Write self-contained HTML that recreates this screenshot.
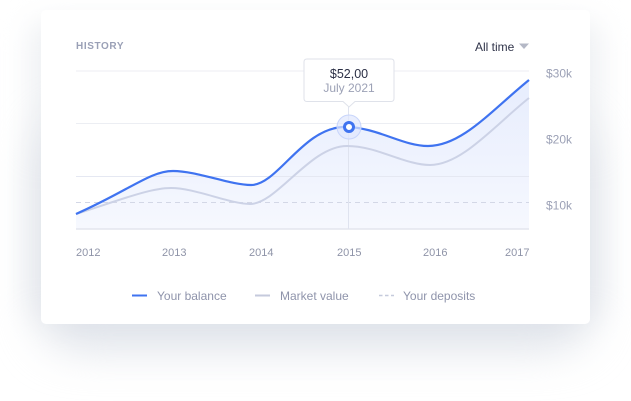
<!DOCTYPE html>
<html><head><meta charset="utf-8">
<style>
html,body{margin:0;padding:0;background:#fff;}
body{width:631px;height:401px;position:relative;overflow:hidden;font-family:"Liberation Sans",sans-serif;}
.shadow{position:absolute;left:40px;top:120px;width:551px;height:228px;border-radius:40px;background:#dde1e8;filter:blur(22px);}
.shadow2{position:absolute;left:30px;top:20px;width:571px;height:300px;border-radius:20px;background:#eef0f3;filter:blur(14px);}
.card{position:absolute;left:41px;top:10px;width:549px;height:314px;background:#fff;border-radius:5px;}
svg{position:absolute;left:0;top:0;}
</style></head><body>
<div class="shadow2"></div>
<div class="shadow"></div>
<div class="card"></div>
<svg width="631" height="401" viewBox="0 0 631 401" xmlns="http://www.w3.org/2000/svg">
<defs>
<linearGradient id="fill" x1="0" y1="0" x2="0" y2="1">
<stop offset="0" stop-color="#e7edfd"/>
<stop offset="1" stop-color="#f6f8fe"/>
</linearGradient>
</defs>
<text x="76" y="49" font-family="Liberation Sans, sans-serif" font-size="10" font-weight="bold" letter-spacing="0.6" fill="#9aa0b6">HISTORY</text>
<text x="475" y="51" font-family="Liberation Sans, sans-serif" font-size="12" fill="#2f3349">All time</text>
<path d="M519,43.5 L529,43.5 L524,49 Z" fill="#b4b8c6"/>
<!-- gridlines -->
<line x1="76" y1="71" x2="529" y2="71" stroke="#eceef3" stroke-width="1"/>
<line x1="76" y1="123.5" x2="529" y2="123.5" stroke="#eceef3" stroke-width="1"/>
<!-- area -->
<path d="M76,214 C130,190 150,171 173,171 C197,171 230,185 251,185 C278,185 303,127 345,127 C377,127 402,146 428,146 C462,146 492,110 529,80 L529,229 L76,229 Z" fill="url(#fill)"/>
<line x1="76" y1="176.5" x2="529" y2="176.5" stroke="#e5e8f2" stroke-width="1"/>
<line x1="76" y1="202.5" x2="529" y2="202.5" stroke="#d3d7e6" stroke-width="1" stroke-dasharray="5,4"/>
<line x1="76" y1="229" x2="529" y2="229" stroke="#e4e6ee" stroke-width="1.5"/>
<line x1="348.5" y1="107" x2="348.5" y2="229" stroke="#dfe3ef" stroke-width="1"/>
<!-- market value -->
<path d="M76,214 C120,200 150,188 171,188 C195,188 230,204 250,204 C277,204 310,146 347,146 C377,146 405,165 430,165 C462,165 495,125 529,98" fill="none" stroke="#ccd2e6" stroke-width="2"/>
<!-- balance -->
<path d="M76,214 C130,190 150,171 173,171 C197,171 230,185 251,185 C278,185 303,127 345,127 C377,127 402,146 428,146 C462,146 492,110 529,80" fill="none" stroke="#3f73f0" stroke-width="2.2"/>
<!-- point -->
<circle cx="349" cy="127" r="12" fill="#dfe7fd" fill-opacity="0.7" stroke="#c8d5fb" stroke-width="1"/>
<circle cx="349" cy="127" r="4.5" fill="#fff" stroke="#3f73f0" stroke-width="3"/>
<!-- tooltip -->
<path d="M307,59 L391,59 Q394,59 394,62 L394,98.5 Q394,101.5 391,101.5 L355,101.5 L349,107 L343,101.5 L307,101.5 Q304,101.5 304,98.5 L304,62 Q304,59 307,59 Z" fill="#fff" stroke="#dfe2ea" stroke-width="1"/>
<text x="349" y="78" text-anchor="middle" font-family="Liberation Sans, sans-serif" font-size="12.5" fill="#2b2f45">$52,00</text>
<text x="349" y="92" text-anchor="middle" font-family="Liberation Sans, sans-serif" font-size="12" fill="#9ca1b6">July 2021</text>
<!-- y labels -->
<g font-family="Liberation Sans, sans-serif" font-size="12" fill="#9ca1b6">
<text x="546" y="77.5">$30k</text>
<text x="546" y="143.5">$20k</text>
<text x="546" y="209.5">$10k</text>
</g>
<!-- x labels -->
<g font-family="Liberation Sans, sans-serif" font-size="11" fill="#8f94a8">
<text x="76" y="256">2012</text>
<text x="162" y="256">2013</text>
<text x="249" y="256">2014</text>
<text x="337" y="256">2015</text>
<text x="423" y="256">2016</text>
<text x="505" y="256">2017</text>
</g>
<!-- legend -->
<line x1="132" y1="295.5" x2="147" y2="295.5" stroke="#3f73f0" stroke-width="2"/>
<line x1="255" y1="295.5" x2="270" y2="295.5" stroke="#c5cadc" stroke-width="2"/>
<line x1="379" y1="295.5" x2="394" y2="295.5" stroke="#c5cadc" stroke-width="1.5" stroke-dasharray="3.5,2.5"/>
<g font-family="Liberation Sans, sans-serif" font-size="12" fill="#8f94ab">
<text x="157" y="300">Your balance</text>
<text x="280" y="300">Market value</text>
<text x="403" y="300">Your deposits</text>
</g>
</svg>
</body></html>
